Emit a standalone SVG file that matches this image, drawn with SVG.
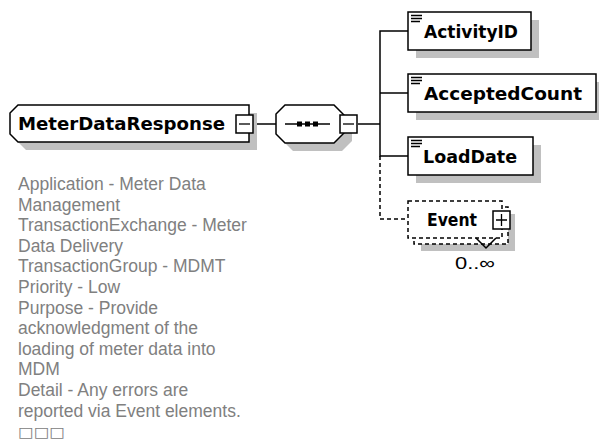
<svg xmlns="http://www.w3.org/2000/svg" width="599" height="439" viewBox="0 0 599 439">
<style>
.box{fill:#fff;stroke:#000;stroke-width:1.5}
.shadow{fill:#c0c0c0;stroke:none}
.lbl{font-family:"DejaVu Sans",Verdana,sans-serif;font-weight:bold;font-size:17px;fill:#000}
.doc{font-family:"Liberation Sans",Arial,sans-serif;font-size:17.5px;fill:#808080}
.conn{stroke:#000;stroke-width:1.5;fill:none}
.dash{stroke-dasharray:4 3}
.icon{stroke:#000;stroke-width:1.3}
</style>
<rect width="599" height="439" fill="#fff"/>
<g id="connectors">
<line class="conn" x1="254" y1="124" x2="276" y2="124"/>
<line class="conn" x1="358" y1="124" x2="380" y2="124"/>
<polyline class="conn" points="408,31 380,31 380,156 408,156"/>
<line class="conn" x1="380" y1="93" x2="408" y2="93"/>
<polyline class="conn dash" points="380,156 380,219 408,219"/>
</g>
<g id="MeterDataResponse">
<path class="shadow" d="M26,113 H257 V150 H26 L18,142 V121 Z"/>
<path class="box" d="M18,105 H249 V142 H18 L10,134 V113 Z"/>
<text class="lbl" x="18" y="130" textLength="207" lengthAdjust="spacingAndGlyphs">MeterDataResponse</text>
<rect class="box" x="236" y="115" width="17" height="18"/>
<line class="icon" x1="239" y1="124" x2="250" y2="124"/>
</g>
<g id="sequence">
<path class="shadow" d="M293,113 H342 L352,123 V141 L342,151 H293 L284,142 V122 Z"/>
<path class="box" d="M285,105 H334 L344,115 V133 L334,143 H285 L276,134 V114 Z"/>
<line class="icon" x1="285" y1="124" x2="330" y2="124"/>
<rect x="297" y="121.5" width="5" height="5" fill="#000"/>
<rect x="305" y="121.5" width="5" height="5" fill="#000"/>
<rect x="313" y="121.5" width="5" height="5" fill="#000"/>
<rect class="box" x="340" y="115" width="17" height="18"/>
<line class="icon" x1="343" y1="124" x2="354" y2="124"/>
</g>
<g id="ActivityID">
<rect class="shadow" x="416" y="20" width="123" height="38"/>
<rect class="box" x="408" y="12" width="123" height="38"/>
<path class="icon" d="M411,15.5 H422 M411,18.5 H422 M411,21.5 H420"/>
<text class="lbl" x="424" y="37.5" textLength="94" lengthAdjust="spacingAndGlyphs">ActivityID</text>
</g>
<g id="AcceptedCount">
<rect class="shadow" x="416" y="82" width="188" height="38"/>
<rect class="box" x="408" y="74" width="188" height="38"/>
<path class="icon" d="M411,77.5 H422 M411,80.5 H422 M411,83.5 H420"/>
<text class="lbl" x="424" y="99.5" textLength="158" lengthAdjust="spacingAndGlyphs">AcceptedCount</text>
</g>
<g id="LoadDate">
<rect class="shadow" x="416" y="145" width="125" height="38"/>
<rect class="box" x="408" y="137" width="125" height="38"/>
<path class="icon" d="M411,140.5 H422 M411,143.5 H422 M411,146.5 H420"/>
<text class="lbl" x="423" y="162.5" textLength="94" lengthAdjust="spacingAndGlyphs">LoadDate</text>
</g>
<g id="Event">
<rect class="shadow" x="421" y="214" width="94" height="37"/>
<rect class="box dash" x="414" y="207" width="94" height="37"/>
<rect class="box dash" x="408" y="201" width="94" height="37"/>
<text class="lbl" x="427" y="226" textLength="50" lengthAdjust="spacingAndGlyphs">Event</text>
<rect class="box" x="493" y="211" width="17" height="18"/>
<path class="icon" d="M496,220 H507 M501.5,214 V226"/>
<polyline class="conn" points="476,238 486,248 496,238" stroke="#333"/>
<text x="455" y="269" font-family="Liberation Sans,Arial,sans-serif" font-size="17" fill="#000" textLength="40" lengthAdjust="spacingAndGlyphs">0..∞</text>
</g>
<g id="documentation">
<text class="doc" x="18" y="190">Application - Meter Data</text>
<text class="doc" x="18" y="210.6">Management</text>
<text class="doc" x="18" y="231.2">TransactionExchange - Meter</text>
<text class="doc" x="18" y="251.8">Data Delivery</text>
<text class="doc" x="18" y="272.4">TransactionGroup - MDMT</text>
<text class="doc" x="18" y="293">Priority - Low</text>
<text class="doc" x="18" y="313.6">Purpose - Provide</text>
<text class="doc" x="18" y="334.2">acknowledgment of the</text>
<text class="doc" x="18" y="354.8">loading of meter data into</text>
<text class="doc" x="18" y="375.4">MDM</text>
<text class="doc" x="18" y="396">Detail - Any errors are</text>
<text class="doc" x="18" y="416.6">reported via Event elements.</text>
<text x="18" y="437" font-family="DejaVu Sans,sans-serif" font-size="14" fill="#808080" textLength="47" lengthAdjust="spacingAndGlyphs">□□□</text>
</g>
</svg>
